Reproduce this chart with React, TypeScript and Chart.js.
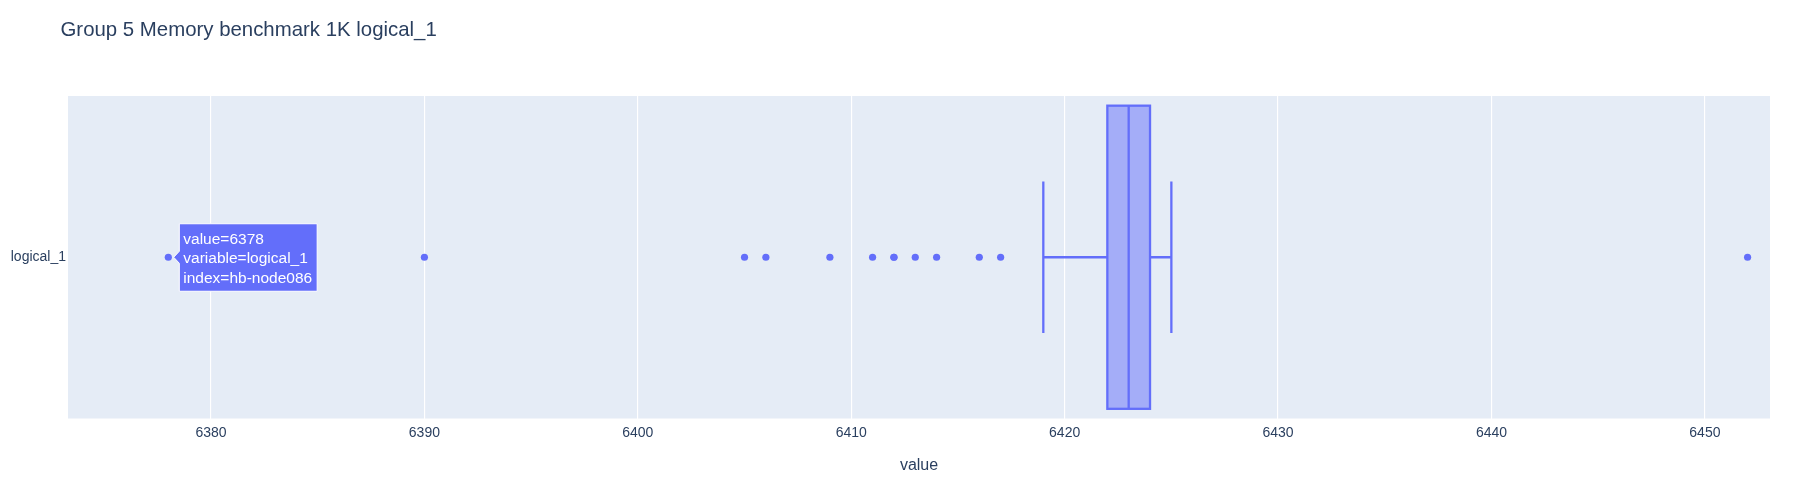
import React, { useEffect, useRef } from 'react';
import { Chart, registerables } from 'chart.js';

Chart.register(...registerables);

const TITLE = 'Group 5 Memory benchmark 1K logical_1';
const CATEGORIES = ['logical_1'];
const X_TITLE = 'value';
const X_TICKS = [6380, 6390, 6400, 6410, 6420, 6430, 6440, 6450];
const X_MIN = 6373.3;
const X_MAX = 6453.05;
const OUTLIERS = [6378, 6390, 6405, 6406, 6409, 6411, 6412, 6412, 6413, 6414, 6416, 6417, 6452];
const LOWER_FENCE = [6419];
const Q1 = [6422];
const MEDIAN = [6423];
const Q3 = [6424];
const UPPER_FENCE = [6425];
const HOVER_VALUE = 6378;
const HOVER_INDEX = 'hb-node086';

const FONT = '"Liberation Sans", Arial, sans-serif';
const TEXT = '#2a3f5f';
const BLUE = '#636efa';

const boxPlugin = {
  id: 'boxPlot',
  beforeDraw(chart: any) {
    const { ctx, chartArea: a } = chart;
    ctx.save();
    ctx.fillStyle = '#E5ECF6';
    ctx.fillRect(a.left, a.top, a.right - a.left, a.bottom - a.top);
    ctx.font = `20.4px ${FONT}`;
    ctx.fillStyle = TEXT;
    ctx.textBaseline = 'alphabetic';
    ctx.textAlign = 'left';
    ctx.fillText(TITLE, 60.5, 35.5);
    ctx.restore();
  },
  beforeDatasetsDraw(chart: any) {
    const { ctx } = chart;
    const xs = chart.scales.x;
    const ys = chart.scales.y;
    CATEGORIES.forEach((_c, i) => {
      const cy = ys.getPixelForValue(i);
      const p1 = ys.getPixelForValue(i - 0.47);
      const p2 = ys.getPixelForValue(i + 0.47);
      const top = Math.min(p1, p2);
      const bot = Math.max(p1, p2);
      const capHalf = (bot - top) / 4;
      const xl = xs.getPixelForValue(LOWER_FENCE[i]);
      const x1 = xs.getPixelForValue(Q1[i]);
      const xm = xs.getPixelForValue(MEDIAN[i]);
      const x3 = xs.getPixelForValue(Q3[i]);
      const xu = xs.getPixelForValue(UPPER_FENCE[i]);
      ctx.save();
      ctx.fillStyle = 'rgba(99,110,250,0.5)';
      ctx.fillRect(x1, top, x3 - x1, bot - top);
      ctx.strokeStyle = BLUE;
      ctx.lineWidth = 2.3;
      ctx.strokeRect(x1, top, x3 - x1, bot - top);
      ctx.beginPath();
      ctx.moveTo(xm, top);
      ctx.lineTo(xm, bot);
      ctx.moveTo(xl, cy);
      ctx.lineTo(x1, cy);
      ctx.moveTo(x3, cy);
      ctx.lineTo(xu, cy);
      ctx.moveTo(xl, cy - capHalf);
      ctx.lineTo(xl, cy + capHalf);
      ctx.moveTo(xu, cy - capHalf);
      ctx.lineTo(xu, cy + capHalf);
      ctx.stroke();
      ctx.restore();
    });
  },
  afterDraw(chart: any) {
    const { ctx } = chart;
    const xs = chart.scales.x;
    const ys = chart.scales.y;
    const px = xs.getPixelForValue(HOVER_VALUE);
    const py = ys.getPixelForValue(0);
    const lines = [`value=${HOVER_VALUE}`, `variable=${CATEGORIES[0]}`, `index=${HOVER_INDEX}`];
    ctx.save();
    ctx.font = `15.5px ${FONT}`;
    const w = Math.max(...lines.map((l) => ctx.measureText(l).width));
    const left = px + 11;
    const right = left + 4 + w + 5;
    const top = py - 33.5;
    const bottom = py + 34;
    ctx.beginPath();
    ctx.moveTo(px + 5.4, py);
    ctx.lineTo(left, py - 6);
    ctx.lineTo(left, top);
    ctx.lineTo(right, top);
    ctx.lineTo(right, bottom);
    ctx.lineTo(left, bottom);
    ctx.lineTo(left, py + 6);
    ctx.closePath();
    ctx.fillStyle = BLUE;
    ctx.fill();
    ctx.strokeStyle = '#ffffff';
    ctx.lineWidth = 1;
    ctx.stroke();
    ctx.fillStyle = '#ffffff';
    ctx.textBaseline = 'alphabetic';
    ctx.textAlign = 'left';
    const offs = [-13.6, 5.9, 25.4];
    lines.forEach((l, k) => ctx.fillText(l, left + 4, py + offs[k]));
    ctx.restore();
  },
};

export default function App() {
  const ref = useRef<HTMLCanvasElement | null>(null);
  useEffect(() => {
    document.body.style.margin = '0';
    const canvas = ref.current;
    if (!canvas) return;
    const chart = new Chart(canvas, {
      type: 'scatter',
      data: {
        datasets: [
          {
            label: CATEGORIES[0],
            data: OUTLIERS.map((v) => ({ x: v, y: CATEGORIES[0] })) as any,
            backgroundColor: BLUE,
            borderWidth: 0,
            pointRadius: 3.6,
            pointHoverRadius: 3.6,
          },
        ],
      },
      options: {
        animation: false,
        responsive: false,
        devicePixelRatio: 1,
        events: [],
        layout: { padding: { left: 0, right: 33, top: 96, bottom: 0 } },
        plugins: {
          legend: { display: false },
          tooltip: { enabled: false },
          title: { display: false },
        },
        scales: {
          x: {
            type: 'linear',
            position: 'bottom',
            min: X_MIN,
            max: X_MAX,
            afterBuildTicks: (s: any) => {
              s.ticks = X_TICKS.map((v) => ({ value: v }));
            },
            afterFit: (s: any) => {
              s.height = 67.5;
            },
            grid: { color: '#ffffff', lineWidth: 1.15, drawTicks: false },
            border: { display: false },
            ticks: {
              includeBounds: false,
              padding: 6,
              color: TEXT,
              font: { family: FONT, size: 14 },
              maxRotation: 0,
              autoSkip: false,
              callback: (v: any) => String(v),
            },
            title: {
              display: true,
              text: X_TITLE,
              color: TEXT,
              font: { family: FONT, size: 16 },
              padding: { top: 0, bottom: 11 },
            },
          },
          y: {
            type: 'category',
            labels: CATEGORIES,
            offset: true,
            afterFit: (s: any) => {
              s.width = 68;
            },
            grid: { display: false, drawTicks: false },
            border: { display: false },
            ticks: {
              padding: 2,
              color: TEXT,
              font: { family: FONT, size: 14 },
            },
          },
        },
      } as any,
      plugins: [boxPlugin],
    });
    return () => chart.destroy();
  }, []);
  return (
    <div style={{ position: 'absolute', left: 0, top: 0, width: 1803, height: 486 }}>
      <canvas ref={ref} width={1803} height={486} />
    </div>
  );
}
